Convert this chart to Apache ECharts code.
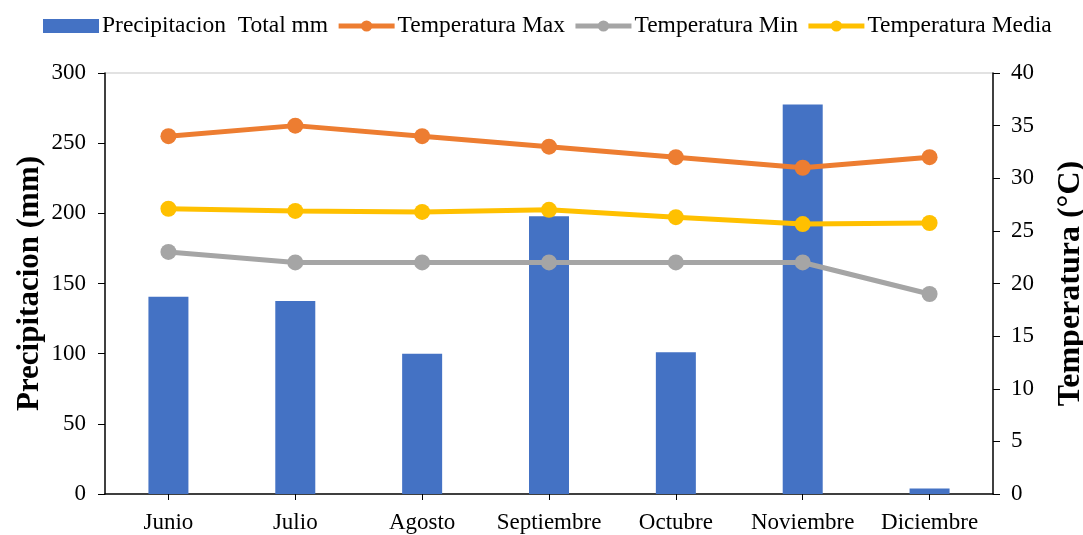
<!DOCTYPE html>
<html><head><meta charset="utf-8">
<script src="https://cdn.jsdelivr.net/npm/echarts@6/dist/echarts.min.js"></script>
<style>html,body{margin:0;padding:0;background:#fff}#c{width:1083px;height:535px}</style>
</head><body><div id="c"></div>
<script>
const categories = ['Junio','Julio','Agosto','Septiembre','Octubre','Noviembre','Diciembre'];
const precipitacion = [140.5, 137.5, 100, 198, 101, 277.5, 4];
const tempMax = [34, 35, 34, 33, 32, 31, 32];
const tempMin = [23, 22, 22, 22, 22, 22, 19];
const tempMedia = [27.1, 26.9, 26.8, 27.0, 26.3, 25.65, 25.75];
const FONT = '"Liberation Serif","Times New Roman",serif';
const chart = echarts.init(document.getElementById('c'));
const lineSeries = (name, data, color) => ({
  name, type: 'line', yAxisIndex: 1, data,
  symbol: 'circle', symbolSize: 16,
  lineStyle: {width: 5, color}, itemStyle: {color},
  animation: false
});
chart.setOption({
  animation: false,
  textStyle: {fontFamily: FONT},
  legend: {
    top: 9, left: 38, itemGap: 8, itemWidth: 56, itemHeight: 14,
    lineStyle: {width: 5},
    textStyle: {fontFamily: FONT, fontSize: 23.5, color: '#000', padding: [0,0,0,-2]},
    data: [
      {name: 'Precipitacion  Total mm', icon: 'rect', itemStyle: {color: '#4472C4'}},
      'Temperatura Max', 'Temperatura Min', 'Temperatura Media'
    ]
  },
  grid: {left: 105, right: 90, top: 73, bottom: 41, containLabel: false, outerBoundsMode: 'none'},
  xAxis: {
    type: 'category', data: categories,
    axisLine: {lineStyle: {color: '#000', width: 1.5}},
    axisTick: {show: true, alignWithLabel: true, length: 6, lineStyle: {color: '#000'}},
    axisLabel: {fontFamily: FONT, fontSize: 23, color: '#000', margin: 17, interval: 0, hideOverlap: false}
  },
  yAxis: [
    {
      type: 'value', min: 0, max: 300, interval: 50,
      name: 'Precipitacion (mm)', nameLocation: 'middle', nameGap: 60, nameRotate: 90, nameMoveOverlap: false,
      nameTextStyle: {fontFamily: FONT, fontSize: 31, fontWeight: 'bold', color: '#000'},
      axisLine: {show: true, lineStyle: {color: '#000', width: 1.5}},
      axisTick: {show: true, length: 7, lineStyle: {color: '#000'}},
      axisLabel: {fontFamily: FONT, fontSize: 23, color: '#000', margin: 19},
      splitLine: {show: true, lineStyle: {color: ['transparent','transparent','transparent','transparent','transparent','transparent','#d9d9d9'], width: 1.5}}
    },
    {
      type: 'value', min: 0, max: 40, interval: 5, position: 'right',
      name: 'Temperatura (°C)', nameLocation: 'middle', nameGap: 62, nameRotate: 90,
      nameTextStyle: {fontFamily: FONT, fontSize: 32, fontWeight: 'bold', color: '#000'},
      axisLine: {show: true, lineStyle: {color: '#000', width: 1.5}},
      axisTick: {show: true, length: 7, lineStyle: {color: '#000'}},
      axisLabel: {fontFamily: FONT, fontSize: 23, color: '#000', margin: 18},
      splitLine: {show: false}
    }
  ],
  series: [
    {name: 'Precipitacion  Total mm', type: 'bar', data: precipitacion, barWidth: 40,
     itemStyle: {color: '#4472C4'}},
    lineSeries('Temperatura Max', tempMax, '#ED7D31'),
    lineSeries('Temperatura Min', tempMin, '#A5A5A5'),
    lineSeries('Temperatura Media', tempMedia, '#FFC000')
  ]
});
</script></body></html>
